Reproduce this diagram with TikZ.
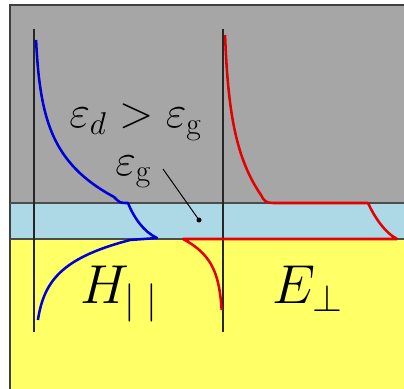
\RequirePackage{fix-cm}
\documentclass[tikz,border=0pt]{standalone}
\usepackage{amsmath,amssymb}
\usepackage{xcolor}
\usepackage{tikz}
\usetikzlibrary{calc}

\definecolor{graybg}{RGB}{166,166,166}
\definecolor{gapbg}{RGB}{173,216,230}
\definecolor{metalbg}{RGB}{255,255,102}

\begin{document}
\begin{tikzpicture}[
    x=0.25mm, y=-0.25mm,
    frame/.style={line width=1pt, black!75},
    iface/.style={line width=0.8pt, black!70},
    axisline/.style={line width=1.3pt, black!85},
    hfield/.style={line width=1.8pt, blue!85!black, line join=round},
    efield/.style={line width=1.8pt, red!90!black, line join=round},
    lbl/.style={inner sep=0pt, font=\fontsize{32}{38}\selectfont},
    biglbl/.style={inner sep=0pt, font=\fontsize{39}{46}\selectfont}
]
\useasboundingbox (0,0) rectangle (404,389);

% --- layers: dielectric, gap, metal ---
\fill[graybg]  (10,5)   rectangle (404,203);
\fill[gapbg]   (10,203) rectangle (404,239);
\fill[metalbg] (10,239) rectangle (404,389);
\draw[frame] (10,389) -- (10,5) -- (404,5);

% --- interfaces ---
\coordinate (topL) at (10,203);  \coordinate (topR) at (404,203);
\coordinate (botL) at (10,239);  \coordinate (botR) at (404,239);
\draw[iface] (topL) -- (topR);
\draw[iface] (botL) -- (botR);

% --- axes ---
\coordinate (haxTop) at (34,29);  \coordinate (haxBot) at (34,332);
\coordinate (eaxTop) at (223,29); \coordinate (eaxBot) at (223,332);
\draw[axisline] (haxTop) -- (haxBot);
\draw[axisline] (eaxTop) -- (eaxBot);

% --- H field profile ---
\draw[hfield] plot[domain=40:197, samples=40, variable=\t] ({34+80*exp(-(197-\t)/43)}, \t)
    .. controls (120,203) .. (128,203)
    .. controls (134,218) and (144,232) .. (157,238)
    -- (130,240)
    -- plot[domain=240:320, samples=30, variable=\t] ({34+96*exp(-(\t-240)/25)}, \t);

% --- E field profile ---
\draw[efield] plot[domain=35:195, samples=40, variable=\t] ({223+38*exp(-(195-\t)/55)}, \t)
    .. controls (264,201) and (266,203) .. (273,203)
    -- (368,203)
    .. controls (374,216) and (384,232) .. (397,239)
    -- (183,239)
    -- plot[domain=239:310, samples=30, variable=\t] ({223-40*exp(-(\t-239)/21)}, \t);

% --- labels ---
\node[lbl, anchor=base west] (epsratio) at (69,128) {$\varepsilon_d > \varepsilon_{\mathrm{g}}$};
\node[lbl, anchor=base west] (epsgap) at (115,175) {$\varepsilon_{\mathrm{g}}$};
\node[biglbl, anchor=base west] (hpar) at (80,303) {$H_{|\hspace{8pt}|}$};
\node[biglbl, anchor=base west] (eperp) at (272,303) {$E_\perp$};

% --- pointer to gap ---
\coordinate (ptrStart) at (163,169);
\coordinate (ptrTip) at (199,220);
\draw[line width=0.7pt] (ptrStart) -- (ptrTip);
\fill (ptrTip) circle (2.5);

\end{tikzpicture}
\end{document}
